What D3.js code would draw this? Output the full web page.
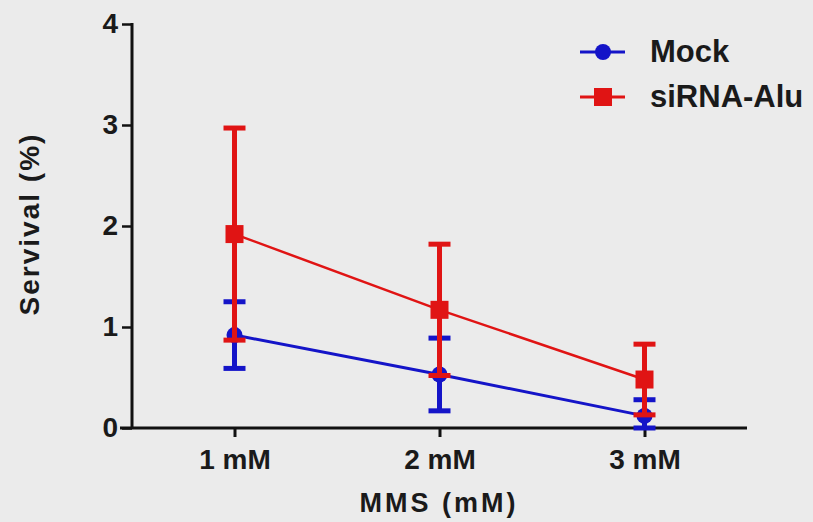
<!DOCTYPE html>
<html>
<head>
<meta charset="utf-8">
<script src="https://cdnjs.cloudflare.com/ajax/libs/d3/7.8.5/d3.min.js"></script>
<style>
  body { margin: 0; background: #ebebeb; }
  svg { display: block; }
  text { font-family: "Liberation Sans", Arial, sans-serif; font-weight: bold; fill: #1a1a1a; }
</style>
</head>
<body>
<div id="chart"></div>
<script>
let categories = ["1 mM", "2 mM", "3 mM"];
let yTicks = [0, 1, 2, 3, 4];

let mockMean = [0.92, 0.53, 0.12];
let mockErr = [0.33, 0.36, 0.16];
let aluMean = [1.92, 1.17, 0.48];
let aluErr = [1.05, 0.65, 0.35];

let seriesNames = ["Mock", "siRNA-Alu"];

function drawChart() {
    let width = 813;
    let height = 522;
    let chart = d3.select("#chart").append("svg")
        .attr("width", width).attr("height", height)
        .style("background", "#ebebeb");

    let left = 132, right = 747, top = 24, bottom = 428;

    let xscale = d3.scalePoint()
        .domain(categories)
        .range([left, right])
        .padding(0.5);

    let yscale = d3.scaleLinear()
        .domain([0, 4])
        .range([bottom, top]);

    let blue = "#1414c8";
    let red = "#e01414";

    // axes
    let xAxis = chart.append("g")
        .attr("transform", "translate(0," + bottom + ")")
        .call(d3.axisBottom(xscale).tickSize(9).tickSizeOuter(0));
    xAxis.select(".domain").attr("stroke", "#111").attr("stroke-width", 3)
        .attr("d", "M" + (left - 12) + ",0H" + right);
    xAxis.selectAll(".tick line").attr("stroke", "#111").attr("stroke-width", 3);
    xAxis.selectAll(".tick text").attr("dy", 0).attr("y", 41).style("font-size", "28px");

    let yAxis = chart.append("g")
        .attr("transform", "translate(" + left + ",0)")
        .call(d3.axisLeft(yscale).tickValues(yTicks).tickSize(10).tickSizeOuter(0)
            .tickFormat(d3.format("d")));
    yAxis.select(".domain").attr("stroke", "#111").attr("stroke-width", 3)
        .attr("d", "M0," + (top - 1) + "V" + bottom);
    yAxis.selectAll(".tick line").attr("stroke", "#111").attr("stroke-width", 2.5);
    yAxis.selectAll(".tick text").attr("x", -14).style("font-size", "28px");

    // axis titles
    chart.append("text")
        .attr("transform", "translate(" + 39 + "," + 224 + ") rotate(-90)")
        .style("text-anchor", "middle")
        .style("font-size", "28px")
        .style("letter-spacing", "2px")
        .text("Servival (%)");

    chart.append("text")
        .attr("x", 439).attr("y", 512)
        .style("text-anchor", "middle")
        .style("font-size", "27px")
        .style("letter-spacing", "3px")
        .text("MMS (mM)");

    let series = [
        { name: seriesNames[0], mean: mockMean, err: mockErr, color: blue, shape: "circle", lw: 3 },
        { name: seriesNames[1], mean: aluMean, err: aluErr, color: red, shape: "square", lw: 2.5 }
    ];

    let line = d3.line()
        .x((d, i) => xscale(categories[i]))
        .y(d => yscale(d));

    series.forEach(function (s) {
        chart.append("path")
            .datum(s.mean)
            .attr("fill", "none")
            .attr("stroke", s.color)
            .attr("stroke-width", s.lw)
            .attr("d", line);
    });

    series.forEach(function (s) {
        let g = chart.append("g");
        let rows = s.mean.map((m, i) => ({ cat: categories[i], m: m, e: s.err[i] }));
        g.selectAll(".bar").data(rows).enter().append("line")
            .attr("x1", d => xscale(d.cat)).attr("x2", d => xscale(d.cat))
            .attr("y1", d => yscale(d.m + d.e))
            .attr("y2", d => yscale(Math.max(0, d.m - d.e)))
            .attr("stroke", s.color).attr("stroke-width", 5);
        [1, -1].forEach(function (sign) {
            g.selectAll(".cap" + sign).data(rows).enter().append("line")
                .attr("x1", d => xscale(d.cat) - 11).attr("x2", d => xscale(d.cat) + 11)
                .attr("y1", d => yscale(Math.max(0, d.m + sign * d.e)))
                .attr("y2", d => yscale(Math.max(0, d.m + sign * d.e)))
                .attr("stroke", s.color).attr("stroke-width", 5);
        });
        if (s.shape === "circle") {
            g.selectAll(".pt").data(rows).enter().append("circle")
                .attr("cx", d => xscale(d.cat)).attr("cy", d => yscale(d.m))
                .attr("r", 8).attr("fill", s.color);
        } else {
            g.selectAll(".pt").data(rows).enter().append("rect")
                .attr("x", d => xscale(d.cat) - 9).attr("y", d => yscale(d.m) - 9)
                .attr("width", 18).attr("height", 18).attr("fill", s.color);
        }
    });

    // legend
    let legend = chart.append("g").attr("transform", "translate(580,52)");
    series.forEach(function (s, i) {
        let row = legend.append("g").attr("transform", "translate(0," + (i * 45) + ")");
        row.append("line").attr("x1", 0).attr("x2", 45).attr("y1", 0).attr("y2", 0)
            .attr("stroke", s.color).attr("stroke-width", 3);
        if (s.shape === "circle") {
            row.append("circle").attr("cx", 23).attr("cy", 0).attr("r", 8).attr("fill", s.color);
        } else {
            row.append("rect").attr("x", 14).attr("y", -9).attr("width", 18).attr("height", 18)
                .attr("fill", s.color);
        }
        row.append("text").attr("x", 70).attr("y", 10)
            .style("font-size", "31px")
            .text(s.name);
    });
}

drawChart();
</script>
</body>
</html>
